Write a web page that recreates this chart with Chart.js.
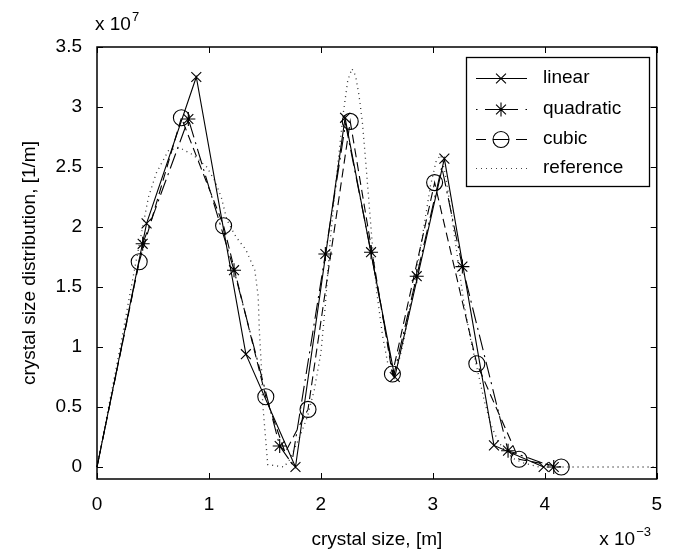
<!DOCTYPE html>
<html><head><meta charset="utf-8">
<script src="https://cdn.jsdelivr.net/npm/chart.js@4.4.0/dist/chart.umd.min.js"></script>
<style>html,body{margin:0;padding:0;background:#fff;}</style>
</head><body>
<canvas id="c" width="676" height="553"></canvas>
<script>
// x values in units of 1e-3 m, y values in units of 1e7 1/m
const xTicks = [0, 1, 2, 3, 4, 5];
const yTicks = [0, 0.5, 1, 1.5, 2, 2.5, 3, 3.5];

const linearX = [0.443, 0.887, 1.330, 1.773, 2.216, 2.660, 3.103, 3.546, 3.990];
const linearY = [2.03, 3.25, 0.94, 0.00, 2.91, 0.75, 2.57, 0.18, 0.00];

const quadX = [0.408, 0.816, 1.224, 1.632, 2.040, 2.448, 2.856, 3.264, 3.672, 4.080];
const quadY = [1.86, 2.90, 1.64, 0.175, 1.775, 1.79, 1.59, 1.67, 0.136, 0.00];
// quadratic curve points between its markers
const quadCurveX = [1.74, 2.22, 2.65, 3.08];
const quadCurveY = [0.03, 2.86, 0.76, 2.50];

const cubicX = [0.377, 0.754, 1.131, 1.508, 1.885, 2.262, 2.639, 3.016, 3.393, 3.770, 4.147];
const cubicY = [1.71, 2.91, 2.01, 0.585, 0.48, 2.88, 0.775, 2.37, 0.86, 0.064, 0.00];
const cubicCurveX = [1.68];
const cubicCurveY = [0.12];

const refX = [0, 0.22, 0.29, 0.35, 0.46, 0.53, 0.64, 0.74, 0.86, 0.98, 1.05, 1.11, 1.16, 1.24, 1.33, 1.41, 1.44, 1.45, 1.47, 1.48, 1.505, 1.525, 1.67, 1.72, 1.81, 1.88, 1.94, 2.00, 2.04, 2.08, 2.12, 2.16, 2.20, 2.24, 2.277, 2.31, 2.34, 2.37, 2.40, 2.43, 2.46, 2.50, 2.55, 2.60, 2.64, 2.68, 2.74, 2.80, 2.86, 2.92, 2.98, 3.03, 3.07, 3.11, 3.16, 3.22, 3.28, 3.34, 3.40, 3.46, 3.52, 3.58, 3.64, 3.72, 3.82, 3.95, 5.0];
const refY = [0, 1.06, 1.42, 1.72, 2.25, 2.45, 2.64, 2.66, 2.60, 2.50, 2.39, 2.25, 2.06, 1.92, 1.81, 1.64, 1.42, 1.14, 0.81, 0.53, 0.25, 0.02, 0, 0.06, 0.25, 0.42, 0.64, 0.95, 1.35, 1.85, 2.25, 2.60, 2.95, 3.22, 3.32, 3.26, 3.10, 2.88, 2.55, 2.20, 1.85, 1.45, 1.10, 0.85, 0.78, 0.82, 1.05, 1.35, 1.65, 2.00, 2.35, 2.55, 2.60, 2.45, 2.15, 1.75, 1.35, 1.05, 0.80, 0.55, 0.35, 0.22, 0.14, 0.07, 0.03, 0.0, 0.0];

const seriesNames = ['linear', 'quadratic', 'cubic', 'reference'];

const FONT = 'Liberation Sans, Arial, Helvetica, sans-serif';
const FS = 19;

function build(xs, ys, cx, cy) {
  const pts = [{x: 0, y: 0, m: false}];
  xs.forEach((x, i) => pts.push({x: x, y: ys[i], m: true}));
  (cx || []).forEach((x, i) => pts.push({x: x, y: cy[i], m: false}));
  pts.sort((a, b) => a.x - b.x);
  return pts;
}

const linearPts = build(linearX, linearY);
const quadPts = build(quadX, quadY, quadCurveX, quadCurveY);
const cubicPts = build(cubicX, cubicY, cubicCurveX, cubicCurveY);
const refPts = refX.map((x, i) => ({x: x, y: refY[i], m: false}));

const styles = {
  linear: {dash: [], marker: 'crossRot', r: 7},
  quadratic: {dash: [16, 5, 2, 5], marker: 'star', r: 7},
  cubic: {dash: [9, 5], marker: 'circle', r: 8},
  reference: {dash: [1, 4], marker: false, r: 0}
};

function ds(label, pts, color, width) {
  const st = styles[label];
  return {
    label: label,
    data: pts,
    showLine: true,
    borderColor: color,
    borderWidth: width,
    borderDash: st.dash,
    backgroundColor: 'rgba(0,0,0,0)',
    pointStyle: st.marker || 'circle',
    pointRadius: c => (c.raw && c.raw.m) ? st.r : 0,
    pointBorderColor: '#000',
    pointBackgroundColor: 'rgba(0,0,0,0)',
    pointBorderWidth: 1.1,
    tension: 0,
    fill: false,
    clip: false
  };
}

const frame = {
  id: 'frame',
  afterDatasetsDraw(chart) {
    const {ctx, chartArea: a, scales: {x, y}} = chart;
    ctx.save();
    ctx.strokeStyle = '#000';
    ctx.lineWidth = 1.5;
    ctx.setLineDash([]);
    ctx.strokeRect(a.left, a.top, a.right - a.left, a.bottom - a.top);
    ctx.lineWidth = 1;
    const L = 6;
    ctx.beginPath();
    xTicks.forEach(v => {
      const px = Math.round(x.getPixelForValue(v)) + 0.5;
      ctx.moveTo(px, a.bottom); ctx.lineTo(px, a.bottom - L);
      ctx.moveTo(px, a.top); ctx.lineTo(px, a.top + L);
    });
    yTicks.forEach(v => {
      const py = Math.round(y.getPixelForValue(v)) + 0.5;
      ctx.moveTo(a.left, py); ctx.lineTo(a.left + L, py);
      ctx.moveTo(a.right, py); ctx.lineTo(a.right - L, py);
    });
    ctx.stroke();

    // exponent labels
    ctx.fillStyle = '#000';
    ctx.textBaseline = 'middle';
    ctx.textAlign = 'left';
    ctx.font = FS + 'px ' + FONT;
    ctx.fillText('x 10', 95, 25);
    let w = ctx.measureText('x 10').width;
    ctx.font = '13px ' + FONT;
    ctx.fillText('7', 95 + w + 1, 17);

    ctx.font = '13px ' + FONT;
    const sup = '\u22123';
    const sw = ctx.measureText(sup).width;
    ctx.fillText(sup, 651 - sw, 532);
    ctx.font = FS + 'px ' + FONT;
    ctx.textAlign = 'right';
    ctx.fillText('x 10', 651 - sw - 1, 540);

    // legend
    const bx = 466, by = 57, bw = 183, bh = 129;
    ctx.fillStyle = '#fff';
    ctx.fillRect(bx, by, bw, bh);
    ctx.strokeStyle = '#000';
    ctx.lineWidth = 1.3;
    ctx.strokeRect(bx + 0.5, by + 0.5, bw, bh);
    const rows = [78, 109, 139, 168];
    const x0 = 476, x1 = 527, xm = 501;
    ctx.lineWidth = 1;
    seriesNames.forEach((name, i) => {
      const yy = rows[i] + 0.5;
      const st = styles[name];
      ctx.strokeStyle = '#000';
      ctx.beginPath();
      if (name === 'linear') {
        ctx.setLineDash([]);
        ctx.moveTo(x0, yy); ctx.lineTo(x1, yy);
      } else if (name === 'quadratic') {
        ctx.setLineDash([]);
        ctx.moveTo(x0, yy); ctx.lineTo(x0 + 1.5, yy);
        ctx.moveTo(485, yy); ctx.lineTo(518, yy);
        ctx.moveTo(x1 - 1.5, yy); ctx.lineTo(x1, yy);
      } else if (name === 'cubic') {
        ctx.setLineDash([]);
        ctx.moveTo(x0, yy); ctx.lineTo(486, yy);
        ctx.moveTo(516, yy); ctx.lineTo(x1, yy);
        ctx.moveTo(xm - 8, yy); ctx.lineTo(xm + 8, yy);
      } else {
        ctx.setLineDash([1, 4]);
        ctx.strokeStyle = '#444';
        ctx.moveTo(x0, yy); ctx.lineTo(x1, yy);
      }
      ctx.stroke();
      ctx.setLineDash([]);
      if (st.marker) {
        ctx.fillStyle = 'rgba(0,0,0,0)';
        ctx.strokeStyle = '#000';
        ctx.lineWidth = 1.1;
        Chart.helpers.drawPoint(ctx, {pointStyle: st.marker, radius: st.r, rotation: 0, borderWidth: 1.1}, xm, yy);
      }
      ctx.lineWidth = 1;
      ctx.fillStyle = '#000';
      ctx.font = FS + 'px ' + FONT;
      ctx.textAlign = 'left';
      ctx.textBaseline = 'middle';
      ctx.fillText(name, 543, rows[i]);
    });
    ctx.restore();
  }
};

new Chart(document.getElementById('c'), {
  type: 'scatter',
  data: {
    datasets: [
      ds('linear', linearPts, '#000', 1.1),
      ds('quadratic', quadPts, '#000', 1.1),
      ds('cubic', cubicPts, '#000', 1.1),
      ds('reference', refPts, '#333', 1.3)
    ]
  },
  options: {
    responsive: false,
    animation: false,
    events: [],
    layout: {padding: {top: 47, right: 18, left: 0, bottom: 0}},
    plugins: {legend: {display: false}, tooltip: {enabled: false}},
    scales: {
      x: {
        type: 'linear', min: 0, max: 5,
        afterBuildTicks: s => { s.ticks = xTicks.map(v => ({value: v})); },
        afterFit: s => { s.height = 74; },
        grid: {display: false, drawTicks: false},
        border: {display: false},
        ticks: {color: '#000', font: {family: FONT, size: FS}, padding: 14, maxRotation: 0,
                callback: v => String(v)},
        title: {display: true, text: 'crystal size, [m]', color: '#000',
                font: {family: FONT, size: FS}, padding: {top: 0, bottom: 2}}
      },
      y: {
        type: 'linear', min: -0.1, max: 3.5,
        afterBuildTicks: s => { s.ticks = yTicks.map(v => ({value: v})); },
        afterFit: s => { s.width = 97; },
        grid: {display: false, drawTicks: false},
        border: {display: false},
        ticks: {color: '#000', font: {family: FONT, size: FS}, padding: 15,
                callback: v => String(v)},
        title: {display: true, text: 'crystal size distribution, [1/m]', color: '#000',
                font: {family: FONT, size: FS}, padding: {top: 18, bottom: 0}}
      }
    }
  },
  plugins: [frame]
});
</script>
</body></html>
